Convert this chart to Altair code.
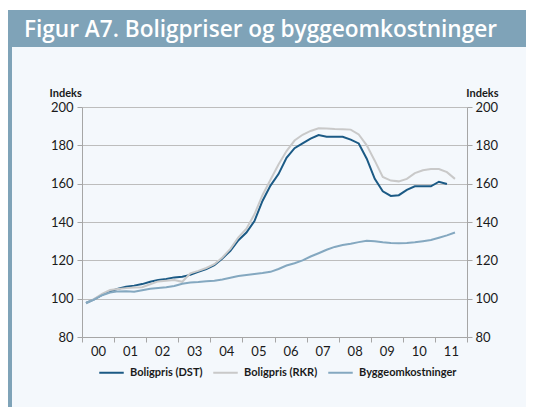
import altair as alt
import pandas as pd

# ---- data (quarterly index, 2000Q1 onward) ----
series_names = ["Boligpris (DST)", "Boligpris (RKR)", "Byggeomkostninger"]
series_colors = ["#1B5A85", "#C9C9C9", "#84A8C0"]

dst = [97.8, 99.6, 102.0, 103.8, 105.2, 106.2, 106.8, 107.6, 108.8, 109.8,
       110.3, 111.1, 111.4, 112.4, 114.0, 115.5, 117.5, 121.0, 125.0, 130.5,
       134.5, 140.5, 151.0, 159.0, 165.0, 173.5, 178.5, 181.0, 183.5, 185.4,
       184.5, 184.5, 184.5, 183.0, 181.0, 173.0, 162.5, 156.0, 153.6, 154.0,
       156.8, 158.6, 158.6, 158.6, 161.0, 159.8]
rkr = [97.5, 99.8, 102.5, 104.5, 105.0, 105.5, 105.8, 106.0, 107.5, 109.0,
       109.4, 109.7, 108.8, 113.2, 114.5, 116.0, 118.0, 121.5, 126.0, 132.0,
       136.5, 144.0, 154.0, 162.0, 170.0, 177.0, 182.5, 185.5, 187.5, 188.9,
       188.8, 188.5, 188.4, 188.2, 185.7, 180.0, 172.0, 163.5, 161.6, 161.2,
       162.5, 165.5, 167.0, 167.6, 167.6, 166.0, 162.5]
bygg = [97.6, 99.5, 101.8, 103.2, 103.8, 103.9, 103.6, 104.4, 105.2, 105.6,
        106.0, 106.6, 107.8, 108.4, 108.7, 109.1, 109.4, 110.0, 110.9, 111.8,
        112.4, 112.9, 113.4, 114.0, 115.5, 117.3, 118.5, 120.0, 122.0, 123.7,
        125.5, 127.0, 128.0, 128.7, 129.5, 130.2, 130.0, 129.4, 129.0, 128.9,
        129.1, 129.4, 130.0, 130.6, 131.8, 133.0, 134.5]

x_years = list(range(2000, 2013))
y_ticks = [80, 100, 120, 140, 160, 180, 200]
title_text = "Figur A7. Boligpriser og byggeomkostninger"

rows = []
for name, vals in zip(series_names, [dst, rkr, bygg]):
    for i, v in enumerate(vals):
        rows.append({"t": 2000 + i * 0.25 + 0.125, "v": v, "serie": name})
df = pd.DataFrame(rows)
one = pd.DataFrame({"label": [title_text]})

FONT = "Lato"
AX = "#A6A6A6"
GRID = "#BDBDBD"
LBL = "#1A1A1A"

x_enc = alt.X(
    "t:Q",
    scale=alt.Scale(domain=[2000, 2012], nice=False, zero=False),
    axis=alt.Axis(
        values=x_years,
        labelExpr="datum.value < 2012 ? substring(toString(datum.value), 2) : ''",
        labelOffset=16, labelFlush=False, labelOverlap=False,
        grid=False, tickSize=5, tickColor=AX, domainColor=AX,
        labelPadding=3, labelFont=FONT, labelFontSize=13, labelColor=LBL,
        title=None,
    ),
)

yscale = alt.Scale(domain=[80, 200], nice=False, zero=False)

lines = alt.Chart(df).mark_line().encode(
    x=x_enc,
    y=alt.Y(
        "v:Q", scale=yscale,
        axis=alt.Axis(
            values=y_ticks, grid=True, gridColor=GRID, gridWidth=1,
            domainColor=AX, tickColor=AX, tickSize=5, labelPadding=4,
            labelFont=FONT, labelFontSize=13, labelColor=LBL,
            title="Indeks", titleAngle=0, titleX=-33, titleY=-9,
            titleAlign="left", titleBaseline="bottom", titleFont=FONT,
            titleFontSize=11, titleFontWeight="bold", titleColor=LBL,
        ),
    ),
    color=alt.Color(
        "serie:N",
        scale=alt.Scale(domain=series_names, range=series_colors),
        legend=alt.Legend(
            orient="none", legendX=16, legendY=252, direction="horizontal",
            title=None, symbolType="stroke", symbolSize=600,
            symbolStrokeWidth=2, labelFont=FONT, labelFontSize=11,
            labelFontWeight="bold", labelColor=LBL, labelOffset=5,
            columnPadding=6,
        ),
    ),
    strokeWidth=alt.StrokeWidth(
        "serie:N",
        scale=alt.Scale(domain=series_names, range=[2, 2, 1.6]),
        legend=None,
    ),
)

right_axis = alt.Chart(df).mark_line(opacity=0).encode(
    x=alt.X("t:Q", scale=alt.Scale(domain=[2000, 2012], nice=False, zero=False), axis=None),
    y=alt.Y(
        "v:Q", scale=yscale,
        axis=alt.Axis(
            orient="right", values=y_ticks, grid=False,
            domainColor=AX, tickColor=AX, tickSize=5, labelPadding=3,
            labelFont=FONT, labelFontSize=13, labelColor=LBL,
            title="Indeks", titleAngle=0, titleX=31, titleY=-9,
            titleAlign="right", titleBaseline="bottom", titleFont=FONT,
            titleFontSize=11, titleFontWeight="bold", titleColor=LBL,
        ),
    ),
    detail="serie:N",
)

banner = alt.Chart(one).mark_rect(color="#7FA3B8").encode(
    x=alt.value(-74), x2=alt.value(444), y=alt.value(-97), y2=alt.value(-60)
)
strip = alt.Chart(one).mark_rect(color="#7FA3B8").encode(
    x=alt.value(-74), x2=alt.value(-70), y=alt.value(-60), y2=alt.value(300)
)
topwhite = alt.Chart(one).mark_rect(color="#FFFFFF").encode(
    x=alt.value(-74), x2=alt.value(444), y=alt.value(-99), y2=alt.value(-97)
)
title = alt.Chart(one).mark_text(
    font="Open Sans", fontSize=22.6, fontWeight=600, color="#FFFFFF",
    align="left", baseline="alphabetic",
).encode(x=alt.value(-58), y=alt.value(-70), text="label:N")

chart = (
    alt.layer(topwhite, banner, strip, title, lines, right_axis)
    .resolve_scale(y="independent", x="independent")
    .properties(
        width=385, height=230,
        padding={"left": 74, "top": 99, "right": 59, "bottom": 70},
        autosize=alt.AutoSizeParams(type="none"),
        background="#F4F8FC",
    )
    .configure_view(stroke=None)
)

chart.save("out.html", embed_options={"renderer": "svg", "actions": False})
